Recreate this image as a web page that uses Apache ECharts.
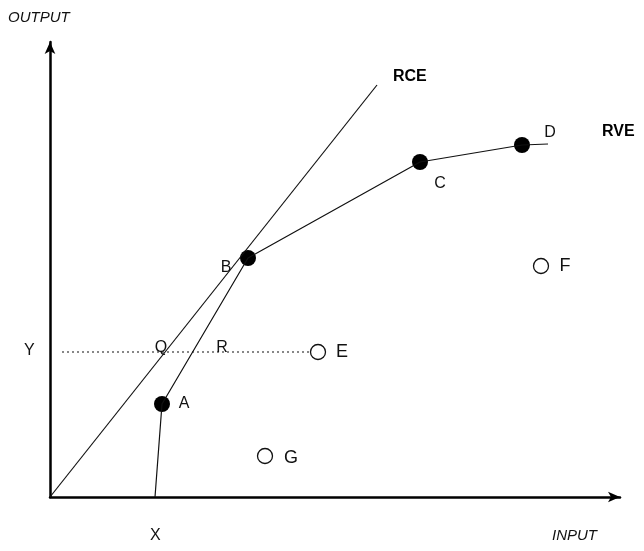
<!DOCTYPE html>
<html>
<head>
<meta charset="utf-8">
<script src="https://cdn.jsdelivr.net/npm/echarts@6/dist/echarts.min.js"></script>
<style>html,body{margin:0;padding:0;background:#fff}#main{width:644px;height:551px}</style>
</head>
<body>
<div id="main"></div>
<script>
// units: input on x, output on y
const efficientNames = ['A', 'B', 'C', 'D']
const efficientPoints = [[112, 93], [198, 239], [370, 335], [472, 352]]
const otherNames = ['E', 'F', 'G']
const otherPoints = [[268, 145], [491, 231], [215, 41]]
const rveLine = [[105, 0], [112, 93], [198, 239], [370, 335], [472, 352], [498, 353]]
const rceLine = [[0, 0], [327, 412]]
const yLevelLine = [[12, 145], [262, 145]]
const markNames = ['Q', 'R']
const markPoints = [[111, 145], [172, 145]]

const font = 'Liberation Sans'
const labelPos = { A: [22, 0], B: [-22, 10], C: [20, 22], D: [28, -12], E: [24, 0], F: [24, 0], G: [26, 2] }

const chart = echarts.init(document.getElementById('main'))
chart.setOption({
  animation: false,
  textStyle: { fontFamily: font },
  grid: { left: 50, right: 24, top: 42, bottom: 54 },
  xAxis: {
    type: 'value', min: 0, max: 570,
    axisLine: { lineStyle: { color: '#000', width: 2.5 }, symbol: ['none', 'arrow'], symbolSize: [8, 12] },
    axisTick: { show: false }, axisLabel: { show: false }, splitLine: { show: false }
  },
  yAxis: {
    type: 'value', min: 0, max: 455,
    axisLine: { show: true, lineStyle: { color: '#000', width: 2.5 }, symbol: ['none', 'arrow'], symbolSize: [8, 12] },
    axisTick: { show: false }, axisLabel: { show: false }, splitLine: { show: false }
  },
  series: [
    { type: 'line', data: rceLine, symbol: 'none', lineStyle: { color: '#111', width: 1.2 },
      endLabel: { show: true, formatter: 'RCE', fontWeight: 'bold', fontSize: 16, color: '#000', offset: [8, -8] } },
    { type: 'line', data: rveLine, symbol: 'none', lineStyle: { color: '#111', width: 1.2 } },
    { type: 'line', data: yLevelLine, symbol: 'none', lineStyle: { color: '#111', width: 1.2, type: [2, 3] } },
    { type: 'scatter', symbolSize: 16, itemStyle: { color: '#000', opacity: 1 },
      data: efficientPoints.map((p, i) => ({ value: p, name: efficientNames[i],
        label: { show: true, formatter: '{b}', offset: labelPos[efficientNames[i]], color: '#111', fontSize: 16 } })) },
    { type: 'scatter', symbolSize: 15, itemStyle: { color: '#fff', borderColor: '#111', borderWidth: 1.3, opacity: 1 },
      data: otherPoints.map((p, i) => ({ value: p, name: otherNames[i],
        label: { show: true, formatter: '{b}', offset: labelPos[otherNames[i]], color: '#111', fontSize: 18 } })) },
    { type: 'scatter', symbolSize: 1, itemStyle: { color: 'rgba(0,0,0,0)', opacity: 1 },
      data: markPoints.map((p, i) => ({ value: p, name: markNames[i],
        label: { show: true, formatter: '{b}', position: 'inside', offset: [0, -4], color: '#111', fontSize: 16,
          backgroundColor: '#fff', padding: [0, 1] } })) }
  ],
  graphic: [
    { type: 'text', left: 8, top: 10, style: { text: 'OUTPUT', fontStyle: 'italic', fontSize: 15, fontFamily: font, fill: '#111' } },
    { type: 'text', left: 552, top: 528, style: { text: 'INPUT', fontStyle: 'italic', fontSize: 15, fontFamily: font, fill: '#111' } },
    { type: 'text', left: 150, top: 528, style: { text: 'X', fontSize: 16, fontFamily: font, fill: '#111' } },
    { type: 'text', left: 24, top: 343, style: { text: 'Y', fontSize: 16, fontFamily: font, fill: '#111' } },
    { type: 'text', left: 602, top: 124, style: { text: 'RVE', fontWeight: 'bold', fontSize: 16, fontFamily: font, fill: '#000' } }
  ]
})
</script>
</body>
</html>
